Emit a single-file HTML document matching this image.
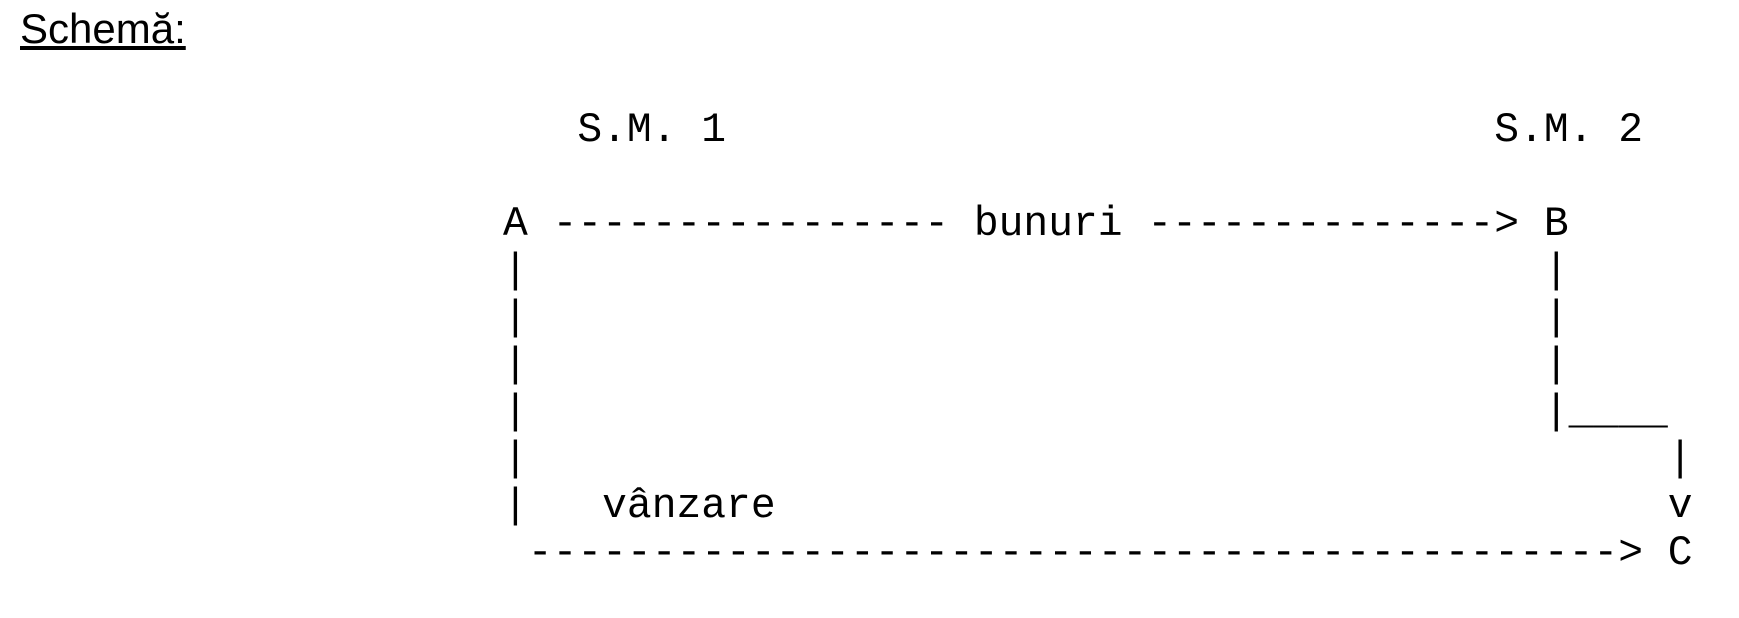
<!DOCTYPE html>
<html><head><meta charset="utf-8"><style>
html,body{margin:0;padding:0;width:1739px;height:618px;background:#fff;overflow:hidden;position:relative}
.t{position:absolute;left:20px;top:8px;font:42px/1 "Liberation Sans",sans-serif;text-decoration:underline;color:#000}
pre{position:absolute;left:503px;top:108px;margin:0;font:41.3px/47px "Liberation Mono",monospace;color:#000}
</style></head><body>
<div class="t">Schemă:</div>
<pre>   S.M. 1                               S.M. 2

A ---------------- bunuri --------------&gt; B
|                                         |
|                                         |
|                                         |
|                                         |____
|                                              |
|   vânzare                                    v
 --------------------------------------------&gt; C</pre>
</body></html>
